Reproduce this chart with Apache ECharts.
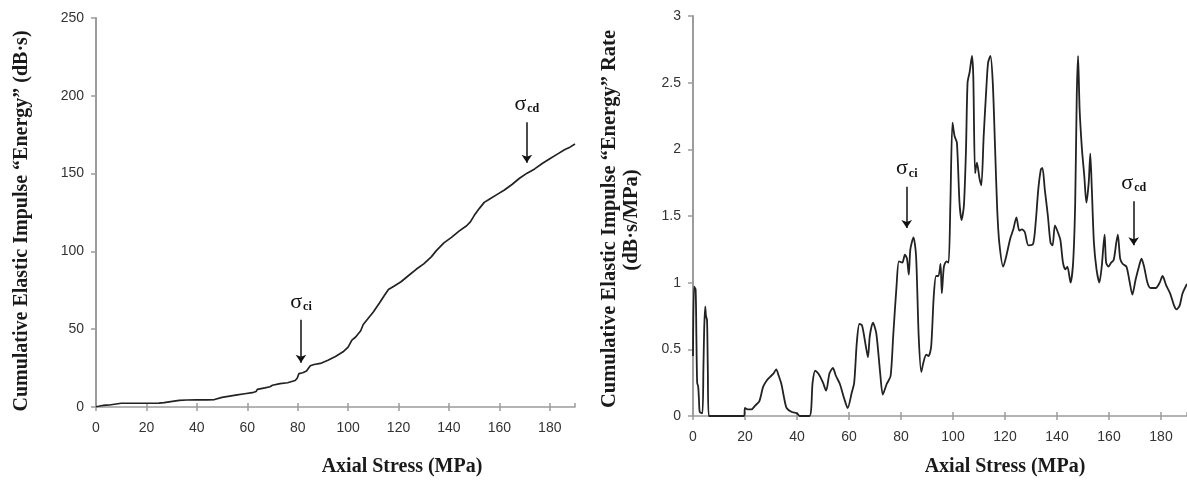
<!DOCTYPE html>
<html>
<head>
<meta charset="utf-8">
<script src="https://cdn.jsdelivr.net/npm/echarts@6/dist/echarts.min.js"></script>
<style>
  html, body { margin: 0; padding: 0; background: #fff; }
  #chart { width: 1187px; height: 481px; }
</style>
</head>
<body>
<div id="chart"></div>
<script>
// Cumulative elastic impulse "energy" vs axial stress
const energyStress = [0, 1, 2, 3, 4, 5.3, 5.6, 10, 15, 20, 25, 27, 29, 31, 33, 36, 40, 44, 47, 47.5, 50, 53, 56, 59, 62, 63.5, 64, 67, 69, 70, 70.5, 73, 76, 79, 79.8, 80.5, 82, 83.5, 85, 86.5, 89, 92, 95, 98, 100, 101.5, 103, 105, 106, 108, 110, 112.5, 114.5, 116, 118, 121, 124, 127, 130, 133, 135, 138, 141, 144, 147, 148.5, 150, 152, 154, 156, 159, 162, 165, 168, 171, 174, 177, 180, 183, 186, 188, 190];
const energyCumulative = [0.3, 0.5, 0.8, 1.0, 1.2, 1.3, 2.3, 2.4, 2.4, 2.4, 2.5, 2.8, 3.3, 3.8, 4.2, 4.5, 4.6, 4.6, 4.8, 5.8, 6.2, 7.0, 7.8, 8.5, 9.2, 10.0, 11.3, 12.3, 13.0, 14.0, 14.8, 15.0, 15.6, 17.0, 18.5, 21.5, 22.0, 23.2, 26.5, 27.3, 28.0, 30.0, 32.5, 35.5, 38.5, 43.0, 45.0, 49.0, 53.0, 57.0, 61.0, 67.0, 72.0, 75.5, 77.5, 80.5, 84.5, 88.5, 92.0, 96.5, 100.5, 105.5, 109.0, 113.0, 116.5, 119.0, 123.0, 127.5, 131.5, 133.5, 136.5, 139.5, 143.0, 147.0, 150.3, 153.0, 156.5, 159.5, 162.5, 165.5, 167.0, 169.0];

// Rate of cumulative elastic impulse "energy" vs axial stress
const rateStress = [0, 0.4, 1.0, 1.3, 1.6, 2.0, 2.3, 2.6, 3.6, 4.0, 4.3, 4.7, 5.0, 5.4, 5.7, 6.1, 19.6, 20.0, 21.0, 22.5, 24.0, 25.5, 27.0, 28.5, 30.0, 31.0, 32.0, 33.0, 34.0, 35.0, 36.0, 38.0, 40.0, 41.0, 44.8, 46.0, 47.0, 48.5, 50.0, 51.2, 52.5, 53.8, 55.0, 56.5, 58.0, 59.5, 61.0, 62.0, 63.0, 64.0, 65.0, 66.5, 67.3, 68.0, 69.2, 70.5, 72.0, 73.0, 74.5, 76.0, 77.0, 78.3, 79.2, 80.5, 81.5, 82.3, 83.0, 83.6, 84.8, 85.8, 86.8, 87.8, 88.6, 89.7, 90.6, 91.6, 92.6, 93.5, 94.4, 95.2, 95.7, 96.5, 97.5, 98.3, 99.0, 99.8, 100.6, 101.5, 102.5, 103.3, 104.2, 105.0, 105.6, 106.4, 107.3, 107.8, 108.5, 109.2, 110.2, 110.9, 111.8, 112.8, 113.5, 114.4, 115.3, 116.2, 117.0, 117.8, 119.3, 120.5, 122.0, 123.2, 124.4, 125.5, 126.5, 127.6, 129.0, 130.8, 131.8, 132.8, 133.8, 134.4, 135.3, 136.5, 137.5, 138.3, 139.2, 140.3, 141.3, 142.3, 143.2, 144.0, 145.2, 146.2, 147.0, 147.6, 148.1, 148.7, 149.6, 150.5, 151.3, 152.2, 152.8, 153.4, 154.2, 155.2, 156.3, 157.2, 158.3, 158.9, 159.8, 160.8, 161.8, 162.8, 163.4, 164.3, 165.3, 166.7, 167.8, 169.0, 170.2, 171.5, 172.5, 173.5, 174.8, 176.0, 178.0, 179.5, 180.6, 182.0, 183.5, 185.0, 186.0, 187.2, 188.3, 190.0];
const rateValue = [0.45, 0.97, 0.95, 0.6, 0.25, 0.22, 0.12, 0.03, 0.02, 0.35, 0.65, 0.82, 0.75, 0.72, 0.35, 0, 0, 0.06, 0.05, 0.05, 0.08, 0.11, 0.22, 0.27, 0.3, 0.32, 0.35, 0.3, 0.24, 0.14, 0.06, 0.03, 0.02, 0.0, 0.0, 0.25, 0.34, 0.31, 0.25, 0.19, 0.32, 0.36, 0.3, 0.24, 0.14, 0.06, 0.17, 0.25, 0.55, 0.69, 0.68, 0.52, 0.44, 0.6, 0.7, 0.62, 0.32, 0.16, 0.24, 0.3, 0.6, 0.98, 1.16, 1.15, 1.21, 1.18, 1.06, 1.25, 1.34, 1.2, 0.6, 0.33, 0.4, 0.46, 0.45, 0.52, 0.9, 1.05, 1.05, 1.14, 0.92, 1.12, 1.16, 1.15, 1.6, 2.2, 2.1, 2.05, 1.6, 1.47, 1.58, 2.0, 2.5, 2.58, 2.7, 2.55, 1.82, 1.9, 1.78, 1.73, 2.1, 2.45, 2.65, 2.7, 2.5, 2.0, 1.55, 1.3, 1.12, 1.2, 1.33, 1.4, 1.49, 1.39, 1.4, 1.38, 1.28, 1.29, 1.45, 1.7, 1.85, 1.86, 1.7, 1.5, 1.3, 1.28, 1.43, 1.38, 1.32, 1.15, 1.1, 1.12, 1.0, 1.15, 1.6, 2.4, 2.7, 2.3, 2.0, 1.8, 1.6, 1.75, 1.97, 1.7, 1.3, 1.1, 1.0, 1.12, 1.36, 1.15, 1.12, 1.15, 1.17, 1.3, 1.36, 1.18, 1.14, 1.12, 1.02, 0.91, 1.02, 1.12, 1.18, 1.12, 1.0, 0.96, 0.96, 1.0, 1.05, 0.98, 0.92, 0.83, 0.8, 0.83, 0.92, 0.99];

// Stress thresholds marked with arrows: [stress, arrow top, arrow tip]
const energyCrackInit = [81.3, 56, 28.5];
const energyCrackDamage = [170.9, 183, 157];
const rateCrackInit = [82.2, 1.72, 1.41];
const rateCrackDamage = [169.5, 1.61, 1.28];

const stressTicks = { min: 0, max: 190, interval: 20 };

const zip = (xs, ys) => xs.map((x, i) => [x, ys[i]]);

const axisGray = '#9c9c9c';
const tickFont = { fontFamily: 'Liberation Sans, Arial, sans-serif', fontSize: 14, color: '#333' };
const titleFont = 'Liberation Serif, Times New Roman, serif';

const sigmaRich = {
  s: { fontFamily: titleFont, fontSize: 22, color: '#111', lineHeight: 24, verticalAlign: 'bottom' },
  b: { fontFamily: titleFont, fontSize: 12, fontWeight: 'bold', color: '#111', lineHeight: 24, verticalAlign: 'bottom', padding: [0, 0, 0, 1] }
};

function arrow(mark, sub) {
  return [
    { coord: [mark[0], mark[1]], symbol: 'none', label: { formatter: '{s|σ}{b|' + sub + '}' } },
    { coord: [mark[0], mark[2]], symbol: 'arrow' }
  ];
}

function markArrows(list) {
  return {
    silent: true,
    symbol: ['none', 'arrow'],
    symbolSize: 8,
    lineStyle: { color: '#111', width: 1.5, type: 'solid' },
    label: { show: true, position: 'start', distance: 7, rich: sigmaRich },
    emphasis: { disabled: true },
    data: list
  };
}

function stressAxis(gridIndex, main) {
  return {
    type: 'value', gridIndex, position: 'bottom',
    min: stressTicks.min, max: stressTicks.max, interval: stressTicks.interval,
    splitLine: { show: false },
    axisLine: { show: main, onZero: false, lineStyle: { color: axisGray, width: 1.5 } },
    axisTick: { show: true, inside: !main, length: 4, lineStyle: { color: axisGray, width: 1.5 } },
    axisLabel: main ? Object.assign({ margin: 14, showMaxLabel: false }, tickFont) : { show: false }
  };
}

const chart = echarts.init(document.getElementById('chart'), null, { renderer: 'canvas' });

chart.setOption({
  animation: false,
  backgroundColor: '#fff',
  grid: [
    { left: 96, top: 18, width: 479, height: 389 },
    { left: 693, top: 16, width: 494, height: 400 }
  ],
  xAxis: [stressAxis(0, true), stressAxis(0, false), stressAxis(1, true), stressAxis(1, false)],
  yAxis: [
    {
      type: 'value', gridIndex: 0, min: 0, max: 250, interval: 50,
      splitLine: { show: false },
      axisLine: { show: true, lineStyle: { color: axisGray, width: 2 } },
      axisTick: { show: true, length: 5, lineStyle: { color: axisGray, width: 1.5 } },
      axisLabel: Object.assign({ margin: 12 }, tickFont)
    },
    {
      type: 'value', gridIndex: 1, min: 0, max: 3, interval: 0.5,
      splitLine: { show: false },
      axisLine: { show: true, lineStyle: { color: axisGray, width: 2 } },
      axisTick: { show: true, length: 5, lineStyle: { color: axisGray, width: 1.5 } },
      axisLabel: Object.assign({ margin: 12 }, tickFont)
    }
  ],
  series: [
    {
      type: 'line', xAxisIndex: 0, yAxisIndex: 0,
      data: zip(energyStress, energyCumulative),
      showSymbol: false, smooth: false,
      lineStyle: { color: '#222', width: 1.7 },
      markLine: markArrows([arrow(energyCrackInit, 'ci'), arrow(energyCrackDamage, 'cd')])
    },
    {
      type: 'line', xAxisIndex: 2, yAxisIndex: 1,
      data: zip(rateStress, rateValue),
      showSymbol: false, smooth: 0.25,
      lineStyle: { color: '#222', width: 1.8 },
      markLine: markArrows([arrow(rateCrackInit, 'ci'), arrow(rateCrackDamage, 'cd')])
    }
  ],
  graphic: [
    {
      type: 'text', x: 22, y: 221, rotation: Math.PI / 2,
      style: { text: 'Cumulative Elastic Impulse \u201CEnergy\u201D (dB\u00B7s)', fontFamily: titleFont, fontSize: 20, fontWeight: 'bold', fill: '#1a1a1a', align: 'center', verticalAlign: 'middle' }
    },
    {
      type: 'text', x: 402, y: 467,
      style: { text: 'Axial Stress (MPa)', fontFamily: titleFont, fontSize: 20, fontWeight: 'bold', fill: '#1a1a1a', align: 'center', verticalAlign: 'middle' }
    },
    {
      type: 'text', x: 610, y: 219, rotation: Math.PI / 2,
      style: { text: 'Cumulative Elastic Impulse \u201CEnergy\u201D Rate', fontFamily: titleFont, fontSize: 20.5, fontWeight: 'bold', fill: '#1a1a1a', align: 'center', verticalAlign: 'middle' }
    },
    {
      type: 'text', x: 632, y: 220, rotation: Math.PI / 2,
      style: { text: '(dB\u00B7s/MPa)', fontFamily: titleFont, fontSize: 20.5, fontWeight: 'bold', fill: '#1a1a1a', align: 'center', verticalAlign: 'middle' }
    },
    {
      type: 'text', x: 1005, y: 467,
      style: { text: 'Axial Stress (MPa)', fontFamily: titleFont, fontSize: 20, fontWeight: 'bold', fill: '#1a1a1a', align: 'center', verticalAlign: 'middle' }
    }
  ]
});
</script>
</body>
</html>
